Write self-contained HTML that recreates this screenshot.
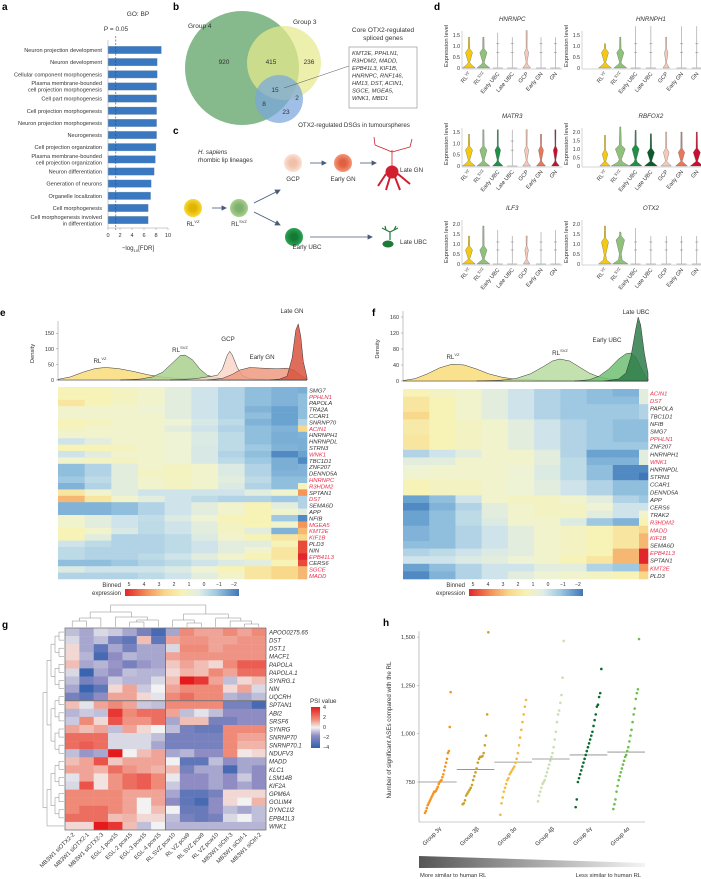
<!DOCTYPE html>
<html><head><meta charset="utf-8">
<style>
html,body{margin:0;padding:0;background:#fff}
svg{display:block;font-family:"Liberation Sans",sans-serif}
text{fill:#333}
</style></head>
<body>
<svg id="fig" width="701" height="879" viewBox="0 0 701 879" xmlns="http://www.w3.org/2000/svg">
<defs>
<linearGradient id="binGrad" x1="0" x2="1" y1="0" y2="0">
<stop offset="0" stop-color="#e3262b"/><stop offset="0.2" stop-color="#f4955a"/><stop offset="0.35" stop-color="#f8d88a"/><stop offset="0.5" stop-color="#f7f2b5"/><stop offset="0.65" stop-color="#dfeee6"/><stop offset="0.8" stop-color="#9fc9e2"/><stop offset="1" stop-color="#3f77b8"/>
</linearGradient>
<linearGradient id="psiGrad" x1="0" x2="0" y1="0" y2="1">
<stop offset="0" stop-color="#e41a1c"/><stop offset="0.3" stop-color="#ef8a78"/><stop offset="0.5" stop-color="#f2f2f2"/><stop offset="0.7" stop-color="#8e8cc2"/><stop offset="1" stop-color="#2f5fae"/>
</linearGradient>
<linearGradient id="simGrad" x1="0" x2="1"><stop offset="0" stop-color="#555"/><stop offset="1" stop-color="#f4f4f4"/></linearGradient>
<radialGradient id="grY"><stop offset="0.35" stop-color="#e0b400"/><stop offset="1" stop-color="#f7d93a"/></radialGradient>
<radialGradient id="grG"><stop offset="0.35" stop-color="#7fb070"/><stop offset="1" stop-color="#a8d08f"/></radialGradient>
<radialGradient id="grP"><stop offset="0.35" stop-color="#f0c0a8"/><stop offset="1" stop-color="#fbe0d4"/></radialGradient>
<radialGradient id="grO"><stop offset="0.35" stop-color="#e0603f"/><stop offset="1" stop-color="#f3977a"/></radialGradient>
<radialGradient id="grD"><stop offset="0.35" stop-color="#137a35"/><stop offset="1" stop-color="#2ea456"/></radialGradient>
</defs>

<!-- Panel labels -->
<text x="2" y="10" font-size="10" font-weight="bold" style="fill:#000">a</text>
<text x="173" y="10" font-size="10" font-weight="bold" style="fill:#000">b</text>
<text x="173" y="134" font-size="10" font-weight="bold" style="fill:#000">c</text>
<text x="434" y="10" font-size="10" font-weight="bold" style="fill:#000">d</text>
<text x="0" y="316" font-size="10" font-weight="bold" style="fill:#000">e</text>
<text x="372" y="316" font-size="10" font-weight="bold" style="fill:#000">f</text>
<text x="2" y="628" font-size="10" font-weight="bold" style="fill:#000">g</text>
<text x="383" y="626" font-size="10" font-weight="bold" style="fill:#000">h</text>

<!-- Panel b: Venn -->
<g>
<circle cx="242" cy="68" r="57" fill="#86b98b"/>
<circle cx="284" cy="63" r="37" fill="#e6ea8c" opacity="0.72"/>
<circle cx="279" cy="99" r="24" fill="#7aa6dd" opacity="0.72"/>
<text x="188" y="28" font-size="6.5">Group 4</text>
<text x="293" y="24" font-size="6.5">Group 3</text>
<text x="224" y="64" font-size="6.5" text-anchor="middle">920</text>
<text x="271" y="64" font-size="6.5" text-anchor="middle">415</text>
<text x="309" y="64" font-size="6.5" text-anchor="middle">236</text>
<text x="275" y="92" font-size="6.5" text-anchor="middle">15</text>
<text x="297" y="100" font-size="6.5" text-anchor="middle">2</text>
<text x="264" y="106" font-size="6.5" text-anchor="middle">8</text>
<text x="286" y="114" font-size="6.5" text-anchor="middle">23</text>
<line x1="284" y1="88" x2="349" y2="66" stroke="#555" stroke-width="0.5"/>
<text x="383" y="32" font-size="6.5" text-anchor="middle">Core OTX2-regulated</text>
<text x="383" y="40" font-size="6.5" text-anchor="middle">spliced genes</text>
<rect x="349" y="47" width="68" height="61" fill="#fff" stroke="#888" stroke-width="0.6"/>
<g font-size="5.8" font-style="italic">
<text x="352" y="55">KMT2E, PPHLN1,</text><text x="352" y="62.5">R3HDM2, MADD,</text><text x="352" y="70">EPB41L3, KIF1B,</text><text x="352" y="77.5">HNRNPC, RNF146,</text><text x="352" y="85">HM13, DST, ACIN1,</text><text x="352" y="92.5">SGCE, MGEA5,</text><text x="352" y="100">WNK1, MBD1</text>
</g>
<text x="354" y="127" font-size="6.2" text-anchor="middle">OTX2-regulated DSGs in tumourspheres</text>
</g>

<!-- Panel c: lineage -->
<g>
<text x="198" y="154" font-size="6.2" font-style="italic">H. sapiens</text>
<text x="198" y="162" font-size="6.2">rhombic lip lineages</text>
<circle cx="293" cy="163" r="9" fill="url(#grP)"/>
<circle cx="343" cy="163" r="9" fill="url(#grO)"/>
<circle cx="193" cy="208" r="9" fill="url(#grY)"/>
<circle cx="239" cy="208" r="9" fill="url(#grG)"/>
<circle cx="294" cy="237" r="9" fill="url(#grD)"/>
<g stroke="#4a5a7a" stroke-width="0.8" fill="#4a5a7a">
<line x1="310" y1="163" x2="324" y2="163"/><polygon points="326,163 322,161 322,165"/>
<line x1="360" y1="163" x2="374" y2="163"/><polygon points="376,163 372,161 372,165"/>
<line x1="212" y1="208" x2="224" y2="208"/><polygon points="226,208 222,206 222,210"/>
<line x1="254" y1="203" x2="278" y2="191"/><polygon points="280,190 275,190 277,194"/>
<line x1="254" y1="212" x2="278" y2="224"/><polygon points="280,225 275,225 277,221"/>
<line x1="310" y1="237" x2="370" y2="237"/><polygon points="372,237 368,235 368,239"/>
</g>
<g stroke="#d0202f" fill="#d0202f">
<path d="M392 178 L392 150 M392 152 L375 145 M392 152 L410 147 M375 145 L374 137 M410 147 L412 139" stroke-width="0.8" fill="none"/>
<ellipse cx="392" cy="172" rx="6" ry="6"/>
<path d="M386 174 L378 186 M398 174 L410 184 M390 177 L386 190 M395 177 L400 190" stroke-width="2" fill="none"/>
</g>
<text x="400" y="172" font-size="6.2">Late GN</text>
<g stroke="#1f7a3a" fill="#1f7a3a">
<path d="M390 240 L390 232 M390 232 L382 228 M390 232 L398 228 M386 230 L385 226 M394 230 L396 226" stroke-width="1.2" fill="none"/>
<ellipse cx="388" cy="244" rx="5" ry="3"/>
</g>
<text x="400" y="244" font-size="6.2">Late UBC</text>
<text x="293" y="181" font-size="6.2" text-anchor="middle">GCP</text>
<text x="343" y="181" font-size="6.2" text-anchor="middle">Early GN</text>
<text x="193" y="226" font-size="6.2" text-anchor="middle">RL<tspan font-size="4" dy="-3">VZ</tspan></text>
<text x="239" y="226" font-size="6.2" text-anchor="middle">RL<tspan font-size="4" dy="-3">SVZ</tspan></text>
<text x="307" y="249" font-size="6.2" text-anchor="middle">Early UBC</text>
</g>

<g id="panelA"></g>
<g id="panelD"></g>
<g id="panelE"></g>
<g id="panelF"></g>
<g id="panelG"></g>
<g id="panelH"></g>
</svg>

<script>
// ---------- Panel a data ----------
const goTerms = [["Neuron projection development"],["Neuron development"],["Cellular component morphogenesis"],["Plasma membrane-bounded","cell projection morphogenesis"],["Cell part morphogenesis"],["Cell projection morphogenesis"],["Neuron projection morphogenesis"],["Neurogenesis"],["Cell projection organization"],["Plasma membrane-bounded","cell projection organization"],["Neuron differentiation"],["Generation of neurons"],["Organelle localization"],["Cell morphogenesis"],["Cell morphogenesis involved","in differentiation"]];
const goValues = [8.9,8.2,8.2,8.1,8.1,8.1,8.1,8.1,8.0,7.9,7.7,7.2,7.1,6.7,6.7];
const goTicks = [0,2,4,6,8,10];
const goThreshold = 1.3;

// ---------- Panel d data ----------
const cellTypes = ["RL VZ","RL SVZ","Early UBC","Late UBC","GCP","Early GN","GN"];
const geneNames = ["HNRNPC","HNRNPH1","MATR3","RBFOX2","ILF3","OTX2"];
const vioMax = [[1.4,1.4,1.6,1.4,1.7,1.4,1.4],[1.1,1.4,1.9,1.9,1.4,1.9,1.9],[1.4,1.6,1.6,1.6,1.6,1.4,1.6],[1.8,2.3,2.1,1.9,2.0,2.0,2.0],[1.4,1.9,1.7,1.4,1.4,1.6,1.7],[1.9,1.6,1.8,1.4,1.4,1.4,1.4]];
const vioBulge = [[0.7,0.7,0,0,0.7,0,0],[0.7,0.7,0,0,0.7,0,0],[0.7,0.7,0.7,0,0.7,0.7,0.7],[0.7,1.0,1.0,0.8,0.8,0.8,0.8],[0.7,0.7,0,0,0.7,0,0],[1.1,1.2,0,0,0,0,0]];
const vioWidth = [[1,1,0,0,0.6,0,0],[1,1,0,0,0.5,0,0],[1,1,0.8,0,0.6,0.7,0.6],[0.8,1.4,1,1,0.8,0.9,1],[1,1,0,0,0.5,0,0],[1,1.2,0,0,0,0,0]];
const vioTicks = [[0,0.5,1.0,1.5],[0,0.5,1.0,1.5],[0,0.5,1.0,1.5],[0,0.5,1.0,1.5,2.0],[0,0.5,1.0,1.5,2.0],[0,0.5,1.0,1.5,2.0]];
const vioYMax = [1.5,1.5,1.5,2.0,2.0,2.0];

// ---------- Panel e data ----------
const eGenes = ["SMG7","PPHLN1","PAPOLA","TRA2A","CCAR1","SNRNP70","ACIN1","HNRNPH1","HNRNPDL","STRN3","WNK1","TBC1D1","ZNF207","DENND5A","HNRNPC","R3HDM2","SPTAN1","DST","SEMA6D","APP","NFIB","MGEA5","KMT2E","KIF1B","PLD3","NIN","EPB41L3","CERS6","SGCE","MADD"];
const eRed = ["PPHLN1","ACIN1","WNK1","HNRNPC","R3HDM2","DST","MGEA5","KMT2E","KIF1B","EPB41L3","SGCE","MADD"];
const eValues = [
[1.5,1.5,1.2,1,0.5,0,-0.5,-1,-1.2,-1.3],[1.5,1.5,1.3,1,0.5,0,-0.5,-1,-1.2,-1],[2,1.5,1.2,1,0.5,0,-0.5,-1,-1.2,-1],[1,1,1,0.8,0.5,0,-0.5,-1.2,-1.5,-1],[1,1,1,1,0.5,0,-0.5,-1,-1.5,-1],[1.5,1.3,1,1,0.8,0.2,-0.3,-1.2,-1.5,-0.5],[1.2,1,1,1,0.5,0,-0.5,-1,-1.2,2.5],[1,1,1,1,0.8,0.3,-0.3,-1,-1.3,-1.2],[0,0.5,1,1,0.8,0.3,-0.3,-1,-1.3,-1.3],[1.5,1.5,1.3,1,0.8,0.2,-0.3,-0.8,-1.2,-1.3],
[0,0.5,1,1,0.8,0.2,-0.5,-1,-1.8,-1.5],[1,1.2,1.2,1,0.8,0.2,-0.3,-0.8,-1.3,-1.8],[-1,-0.5,0.5,1,1.2,1,0.3,-0.5,-1.3,-1.2],[-1,-0.5,0.5,1.2,1.3,1,0.3,-0.5,-1.2,-1.2],[-0.8,-0.3,0.5,1,1.2,1,0.5,-0.3,-1,-1],[-1.2,-0.5,0.5,1,1.2,1,0.3,-0.5,-1,1.5],[2,1,0.5,0,0,0,0,0.5,1,3.5],[3,2,1,0.5,0,-0.3,-0.5,-0.5,-0.8,-0.5],[-1.2,-1.2,-1,-0.5,0,0.5,1,1.5,0.5,-0.5],[-1.2,-1.2,-1,-0.5,0,0.5,1,1.5,1,0.5],
[1,0.5,0,-0.2,0.3,0.8,1.5,1.5,-0.8,-1.8],[1,0.5,0,-0.3,0,0.5,1.2,1.5,1,3.5],[1.5,1,0.2,-0.3,0,0.5,1.2,0.5,-1.2,3],[1.5,0.5,-0.5,-0.5,-0.3,0.3,1,1.5,2,2.5],[0,-0.3,-0.5,-0.5,-0.3,0,0.5,0.5,1.5,4.5],[-0.3,-0.5,-0.5,-0.5,-0.3,0,0.5,1,2,4.5],[-0.3,-0.5,-0.5,-0.3,0,0.5,1,1.5,2,5],[-1,-1,-0.8,-0.5,-0.3,0,0.3,0.5,1.5,4.5],[0.3,0,0,0,0.3,0.8,1.5,2,2.5,3],[-0.5,-0.5,-0.5,-0.3,0,0.5,1,2,2.5,3]];
const eDensRLVZ = [[0,2],[5,10],[10,25],[15,37],[19,40],[24,37],[30,28],[36,17],[42,9],[50,4],[60,2],[75,1],[100,0]];
const eDensRLSVZ = [[25,0],[33,3],[38,10],[42,25],[46,55],[49,78],[51,80],[54,65],[57,35],[60,15],[65,5],[75,1],[100,0]];
const eDensGCP = [[45,0],[55,4],[60,10],[64,15],[66,35],[68,80],[69,92],[70,80],[72,40],[74,15],[77,4],[85,1],[100,0]];
const eDensEGN = [[60,0],[66,5],[70,18],[73,32],[77,40],[82,38],[88,36],[92,38],[95,30],[98,12],[100,3]];
const eDensLGN = [[85,0],[89,3],[92,12],[94,70],[95.5,160],[96.5,180],[97.5,140],[98.5,60],[100,8]];
const eDensTicks = [0,50,100,150];

// ---------- Panel f data ----------
const fGenes = ["ACIN1","DST","PAPOLA","TBC1D1","NFIB","SMG7","PPHLN1","ZNF207","HNRNPH1","WNK1","HNRNPDL","STRN3","CCAR1","DENND5A","APP","CERS6","TRAK2","R3HDM2","MADD","KIF1B","SEMA6D","EPB41L3","SPTAN1","KMT2E","PLD3"];
const fRed = ["ACIN1","DST","PPHLN1","WNK1","R3HDM2","MADD","KIF1B","EPB41L3","KMT2E"];
const fValues = [
[1.5,1.2,1,0.5,0,-0.5,-0.8,-1,-1.2,0.5],[2,1.5,1,0.5,0,-0.5,-0.8,-1,-1,0.5],[2,1.5,1,0.5,0,-0.5,-0.8,-0.8,-0.8,-0.5],[2.5,1.5,1,0.5,0,-0.5,-0.8,-0.8,-0.8,-0.5],[1.8,1.5,1.2,1,0.5,0,-0.5,-0.8,-1,-1],[1.8,1.5,1.2,1,0.5,0,-0.5,-0.8,-1,-1],[2,1.5,1.2,1,0.5,0,-0.5,-0.8,-1,-1],[2,1.5,1.2,1,0.5,0,-0.5,-0.8,-0.8,-0.8],[-0.5,0,0.5,1,1,0.5,-0.5,-1.5,-1.5,0.5],[0.5,0.5,1,1,1,0.5,-0.3,-1.2,-1.2,0.5],
[0.8,1,1,1,0.8,0.3,-0.3,-1,-1.8,-1.8],[1,1,1,1,0.8,0.3,-0.3,-1,-1.8,-2],[1.5,1.2,1.2,1,0.8,0.5,0,-0.5,-1,-1],[1.5,1.2,1.2,1,0.8,0.5,0,-0.5,-1,-1],[-1.5,-1,0,1,1.2,1.2,1,0.5,-0.5,-0.8],[-1.8,-1.2,-0.5,0.5,1,1.2,1.2,0.8,0,0],[-1.5,-1,-0.3,0.5,1,1.2,1.2,0.5,0,1],[-1.5,-1,-0.3,0.3,1,1,0.3,-0.8,-1.2,1.5],[-1.2,-1,-0.5,0,0.5,1,1.2,1.5,2,2.5],[-1.2,-1,-0.5,0,0.5,1,1.2,1.5,2,3],
[-1,-1,-0.5,0,0.5,1,1.2,1.5,2,3],[-0.5,-0.3,0,0.3,0.5,1,1.2,1.5,3,5],[0,0,0.3,0.5,0.8,1,1.5,2,3,5],[-1.5,-1,-0.5,0,0,0.5,0.5,-0.5,-0.8,3.5],[-1.8,-1.2,-0.5,0,0.5,0.8,1,1.2,1.5,2.5]];
const fDensRLVZ = [[0,1],[5,6],[10,18],[15,33],[20,42],[25,40],[30,30],[35,18],[40,10],[45,5],[55,2],[70,1],[100,0]];
const fDensRLSVZ = [[30,0],[40,2],[46,6],[52,18],[57,35],[61,50],[64,55],[68,50],[72,35],[76,20],[80,10],[85,4],[95,1],[100,0]];
const fDensEUBC = [[70,0],[76,3],[80,12],[84,30],[88,55],[91,68],[93,70],[95,60],[97,35],[99,12],[100,5]];
const fDensLUBC = [[82,0],[88,5],[91,20],[93,60],[95,130],[96,160],[97,140],[98.5,70],[100,20]];
const fDensTicks = [0,40,80,120,160];
const binTicks = ["5","4","3","2","1","0","−1","−2"];

// ---------- Panel g data ----------
const gRows = ["APOO0275.65","DST","DST.1","MACF1","PAPOLA","PAPOLA.1","SYNRG.1","NIN","UQCRH","SPTAN1","ABI2","SRSF6","SYNRG","SNRNP70","SNRNP70.1","NDUFV3","MADD","KLC1","LSM14B","KIF2A","GPM6A","GOLIM4","DYNC1I2","EPB41L3","WNK1"];
const gCols = ["MB3W1 siOTX2-2","MB3W1 siOTX2-1","MB3W1 siOTX2-3","EGL-1 pcw15","EGL-2 pcw15","EGL-3 pcw15","EGL-4 pcw15","RL SVZ pcw10","RL VZ pcw9","RL SVZ pcw9","RL VZ pcw10","MB3W1 siCtrl-3","MB3W1 siCtrl-1","MB3W1 siCtrl-2"];
const gValues = [
[-1,-1.5,-0.5,-0.8,-1.5,-2.5,-3.5,-1.5,2,1.5,1.5,2,1.5,2],
[-0.5,-1.5,-1,-2.5,-3,1,-3,1.5,1.8,1.8,1.5,1.5,1.8,1.8],
[0.5,-1.5,-3,-1.5,-2.5,-1.5,-1.5,-0.5,2,2,1.5,1.8,1.8,1.8],
[0.5,-1.2,-3.5,-2,-1.2,-1.5,-1.5,1.5,1.8,1.8,1.8,1.8,1.8,1.8],
[1,-1.5,-1.2,-1.8,-2.5,-1.8,-1.5,0.8,1.5,1,0.5,2,2.8,2.8],
[-0.5,-3.8,-1.5,-2,-1,-1.2,-1.2,0.5,1.2,1,2,1.5,2.5,2.5],
[-1,-2.5,-2,-0.8,-1.2,-1.2,-0.5,1,4,3.5,1.5,-1,0.5,1],
[-1.5,-3.8,-3,0.5,1.5,-0.8,0,1.5,2,2,2,0.5,1.5,-0.5],
[-2.5,-3,-2,1.5,1.5,0.5,-0.3,2,2.5,2,2,-1.2,-1.5,-1],
[1,-0.3,1.5,2,1.5,-0.8,-1,2,2,2,2,-2.5,-2.5,-3.5],
[-1.2,-0.8,-1,3.5,2,2.5,2.5,1.5,-1,-0.3,-1,-2,-2,-2],
[-0.8,2,0.5,3,1.8,1.8,2.5,-1.5,1,1,-2.5,-2.5,-2,-2],
[1.5,1,1.5,-1,1.5,0.5,0,-1,-2.5,-2.8,-2.8,2,2,2],
[2.5,2.5,2.5,-0.5,-0.5,-0.5,-1,-2.5,-2.5,-2.5,-2.5,2,1.5,1.5],
[2.5,2.8,2.5,-0.5,-0.5,-0.5,-1.5,-2.5,-2.5,-2.5,-2.5,2,1.2,1.2],
[-1,-1.8,-1.5,4,0,1,1.5,-1.5,-1.2,-2,-2,2,0.2,0.5],
[1,1.5,3,0.8,1.5,1.5,1.5,0,-3,-3,-1,-2,-1.5,-1.5],
[1.5,1.5,1.2,2.5,1.8,1.5,1.2,1,-2.5,-1.5,-1.5,-3.5,-1.5,-2],
[-0.3,1.5,0.3,1.8,2.5,2.8,2,-0.2,-2,-2,-1.5,-2,-0.8,-2],
[-0.5,3,0.3,1.8,2.5,2.8,2,-0.8,-2,-2,-1.5,-2,-1.5,-2],
[2,2,2,2,1.5,1.5,1.5,-1.5,-3,-3,-2.5,0.5,0.5,0.5],
[2,2,2,2,1.5,0,1.5,-2,-3,-3.5,-2,0.5,0,1.2],
[2,2.5,2.5,2,1.5,0,1,0,-2.8,-2.8,-2,-1,-1.5,-1],
[2.5,2.5,2.5,1,1.2,0.5,0.5,-1,-2.5,-2.8,-2.5,-0.5,0,-1],
[0.5,0.5,4,3.5,1,-1,0,-1.2,-1.2,-1.2,-1.2,-1.2,-1.2,-1.2]];
const psiTicks = ["4","2","0","−2","−4"];

// ---------- Panel h data ----------
const hGroups = ["Group 3γ","Group 3β","Group 3α","Group 4β","Group 4γ","Group 4α"];
const hG3g = [590,600,615,630,640,650,660,670,680,690,700,700,705,715,725,740,750,755,760,775,790,810,830,850,870,900,910,1035,1215];
const hG3b = [635,640,655,680,690,700,710,720,735,760,780,800,820,850,870,880,880,885,900,940,990,1100,1525];
const hG3a = [580,640,670,700,720,740,760,770,790,800,810,820,830,850,870,900,940,980,1020,1060,1100,1140,1175];
const hG4b = [650,680,700,720,740,750,760,780,800,820,840,860,880,900,930,970,1010,1060,1100,1120,1160,1200,1290,1480];
const hG4g = [620,660,750,770,790,810,830,850,870,890,910,930,950,970,990,1010,1040,1070,1100,1140,1150,1190,1210,1335];
const hG4a = [610,635,660,700,730,760,780,800,820,840,860,880,890,910,930,960,990,1020,1060,1100,1130,1180,1210,1230,1490];
const hMedians = [750,815,853,869,890,905];
const hTicks = [750,1000,1250,1500];
const hTickLabels = ["750","1,000","1,250","1,500"];

// ================= helpers =================
const NS="http://www.w3.org/2000/svg";
function mk(parent,tag,attrs,txt){const e=document.createElementNS(NS,tag);for(const k in attrs)e.setAttribute(k,attrs[k]);if(txt!==undefined)e.textContent=txt;parent.appendChild(e);return e;}
function hex(c){return [parseInt(c.slice(1,3),16),parseInt(c.slice(3,5),16),parseInt(c.slice(5,7),16)];}
function interp(stops,v){if(v>=stops[0][0])return stops[0][1];for(let i=0;i<stops.length-1;i++){const a=stops[i],b=stops[i+1];if(v<=a[0]&&v>=b[0]){const t=(a[0]-v)/(a[0]-b[0]);const ca=hex(a[1]),cb=hex(b[1]);return "rgb("+ca.map((x,j)=>Math.round(x+(cb[j]-x)*t)).join(",")+")";}}return stops[stops.length-1][1];}
const binStops=[[5,"#e3262b"],[3.5,"#f4955a"],[2.5,"#f8d88a"],[1.5,"#f7f2b5"],[0.8,"#eef3d6"],[0,"#cfe4ea"],[-0.8,"#9fc9e2"],[-1.5,"#6ba3d0"],[-2,"#3f77b8"]];
const psiStops=[[4,"#e41a1c"],[2,"#ef8a78"],[0,"#f2f2f2"],[-2,"#8e8cc2"],[-4,"#2f5fae"]];

// ================= Panel a =================
(function(){
const g=document.getElementById('panelA');
const x0=108,ppu=6,y0=50,dy=12.15,bh=7.5;
const sx=v=>x0+v*ppu;
mk(g,'text',{x:138,y:16,'font-size':6.5,'text-anchor':'middle',},'GO: BP');
mk(g,'text',{x:116,y:31,'font-size':6.5,'text-anchor':'middle',},'P = 0.05');
goValues.forEach((v,i)=>{
 const cy=y0+i*dy;
 const r=mk(g,'rect',{x:sx(0),y:cy-bh/2,width:sx(v)-sx(0),height:bh,fill:'#3a78c2',stroke:'#9aa',"stroke-width":0.3});
 
 
 const lines=goTerms[i];
 lines.forEach((ln,j)=>{
  const t=mk(g,'text',{x:102,y:cy+2+(j-(lines.length-1)/2)*6.5,'font-size':5.6,'text-anchor':'end'},ln);
  
  
 });
});
mk(g,'line',{x1:sx(goThreshold),x2:sx(goThreshold),y1:36,y2:230,stroke:'#444','stroke-width':0.6,'stroke-dasharray':'2,1.5',});
mk(g,'line',{x1:sx(0),x2:sx(0),y1:40,y2:228,stroke:'#999','stroke-width':0.5});
mk(g,'line',{x1:sx(0),x2:sx(10),y1:228,y2:228,stroke:'#999','stroke-width':0.5,});
goTicks.forEach(t=>{
 mk(g,'line',{x1:sx(t),x2:sx(t),y1:228,y2:230,stroke:'#999','stroke-width':0.5});
 const l=mk(g,'text',{x:sx(t),y:237,'font-size':5.6,'text-anchor':'middle'},String(t));
 
 
});
const ax=mk(g,'text',{x:138,y:250,'font-size':6.2,'text-anchor':'middle',},'−log');
mk(ax,'tspan',{'font-size':4,dy:2},'10');mk(ax,'tspan',{dy:-2},'[FDR]');
})();

// ================= Panel d =================
(function(){
const g=document.getElementById('panelD');
const colors=["#f2c913","#8fc17a","#1f8f4a","#0b5b2b","#f5c8b8","#e8775c","#c8102e"];
const layout=[{ax:462,c0:469,sp:14.4},{ax:582,c0:605,sp:15.3}];
const baselines=[68,166,264],tops=[35,132,224];
geneNames.forEach((gene,gi)=>{
 const col=gi%2,row=Math.floor(gi/2);const L=layout[col];
 const base=baselines[row];const ppu=(base-tops[row])/vioYMax[gi];
 const sy=v=>base-v*ppu;
 const pg=mk(g,'g',{});
 
 
 mk(pg,'text',{x:L.c0+3*L.sp,y:tops[row]-14,'font-size':6.2,'font-style':'italic','text-anchor':'middle'},gene);
 mk(pg,'line',{x1:L.ax,x2:L.ax,y1:sy(vioYMax[gi])-4,y2:base+1,stroke:'#aaa','stroke-width':0.5});
 mk(pg,'line',{x1:L.ax,x2:L.c0+6*L.sp+7,y1:base+1,y2:base+1,stroke:'#aaa','stroke-width':0.5});
 vioTicks[gi].forEach(t=>{mk(pg,'text',{x:L.ax-2,y:sy(t)+2,'font-size':5.2,'text-anchor':'end'},t===0?'0':t.toFixed(1));});
 mk(pg,'text',{transform:`translate(${L.ax-14},${base-22}) rotate(-90)`,'font-size':5.8,'text-anchor':'middle'},'Expression level');
 cellTypes.forEach((ct,ci)=>{
  const cx=L.c0+ci*L.sp,w=vioWidth[gi][ci]*6.5,b=vioBulge[gi][ci],m=vioMax[gi][ci];
  mk(pg,'line',{x1:cx,x2:cx,y1:sy(m),y2:base,stroke:'#777','stroke-width':0.45});
  if(w>0){
   const by=sy(b);
   const d=`M${cx-w} ${base} L${cx-w*0.25} ${base-4} L${cx-w*0.12} ${(base+by)/2+2} L${cx-w*0.55} ${by} L${cx-w*0.12} ${by-4} L${cx-0.6} ${sy(m)} L${cx+0.6} ${sy(m)} L${cx+w*0.12} ${by-4} L${cx+w*0.55} ${by} L${cx+w*0.12} ${(base+by)/2+2} L${cx+w*0.25} ${base-4} L${cx+w} ${base} Z`;
   const v=mk(pg,'path',{d:d,fill:colors[ci],stroke:'#555','stroke-width':0.3});
   
   
  } else {
   mk(pg,'line',{x1:cx-5,x2:cx+5,y1:base,y2:base,stroke:'#bbb','stroke-width':1});
   mk(pg,'line',{x1:cx-1.5,x2:cx+1.5,y1:sy(0.7),y2:sy(0.7),stroke:'#666','stroke-width':0.4});
   mk(pg,'line',{x1:cx-1.5,x2:cx+1.5,y1:sy(1.1),y2:sy(1.1),stroke:'#666','stroke-width':0.4});
  }
  const isRL=ct.startsWith('RL');
  const t=mk(pg,'text',{transform:`translate(${cx+2},${base+6}) rotate(-50)`,'font-size':5.6,'text-anchor':'end'},isRL?'RL':ct);
  if(isRL){mk(t,'tspan',{'font-size':3.8,dy:-2},ct.split(' ')[1]);}
 });
});
})();

// ================= heatmap + density helper =================
function lineagePanel(gid,prefix,opt){
 const g=document.getElementById(gid);
 const {hx,hw,hy,hh,genes,reds,values,dens,densColors,densLabels,dTicks,dMax,dBase,dTop}=opt;
 const sx=v=>hx+v/100*hw;
 const sy=v=>dBase-(v/dMax)*(dBase-dTop);
 mk(g,'line',{x1:hx,x2:hx,y1:dTop-6,y2:dBase,stroke:'#888','stroke-width':0.5});
 mk(g,'line',{x1:hx,x2:hx+hw,y1:dBase,y2:dBase,stroke:'#888','stroke-width':0.5});
 dTicks.forEach(t=>{mk(g,'text',{x:hx-4,y:sy(t)+2,'font-size':5.4,'text-anchor':'end'},String(t));mk(g,'line',{x1:hx-2,x2:hx,y1:sy(t),y2:sy(t),stroke:'#888','stroke-width':0.5});});
 mk(g,'text',{transform:`translate(${hx-24},${(dTop+dBase)/2}) rotate(-90)`,'font-size':5.8,'text-anchor':'middle'},'Density');
 dens.forEach((pts,i)=>{
  let d=`M${sx(pts[0][0])} ${dBase}`;pts.forEach(p=>{d+=` L${sx(p[0])} ${sy(p[1])}`;});d+=` L${sx(pts[pts.length-1][0])} ${dBase} Z`;
  const p=mk(g,'path',{d:d,fill:densColors[i],'fill-opacity':0.85,stroke:'#333','stroke-width':0.5,'stroke-linejoin':'round'});
  
  
 });
 densLabels.forEach(l=>{const t=mk(g,'text',{x:l[1],y:l[2],'font-size':6.2,'text-anchor':'middle'},l[0]);if(l[3]){mk(t,'tspan',{'font-size':4,dy:-3},l[3]);}});
 const rh=hh/genes.length;const nc=values[0].length;const lastW=9;const cw=(hw-lastW)/(nc-1);
 values.forEach((row,r)=>{
  row.forEach((v,c)=>{
   const x=hx+c*cw, w=(c===nc-1)?lastW:cw;
   const cell=mk(g,'rect',{x:x,y:hy+r*rh,width:w+0.3,height:rh+0.3,fill:interp(binStops,v)});
   
   
  });
  const gl=mk(g,'text',{x:hx+hw+2,y:hy+r*rh+rh*0.85,'font-size':5.9,'font-style':'italic',style:'fill:'+(reds.includes(genes[r])?'#e8304a':'#333')},genes[r]);
  
  
 });
 const ly=opt.legY,lx=opt.legX;
 mk(g,'text',{x:lx-4,y:ly+1,'font-size':6,'text-anchor':'end'},'Binned');
 mk(g,'text',{x:lx-4,y:ly+9,'font-size':6,'text-anchor':'end'},'expression');
 mk(g,'rect',{x:lx,y:ly+3,width:114,height:7,fill:'url(#binGrad)',});
 binTicks.forEach((t,i)=>{mk(g,'text',{x:lx+4+i*15,y:ly,'font-size':5,'text-anchor':'middle'},t);});
}
lineagePanel('panelE','e',{hx:58,hw:249,hy:387,hh:192,genes:eGenes,reds:eRed,values:eValues,
 dens:[eDensRLVZ,eDensRLSVZ,eDensGCP,eDensEGN,eDensLGN],densColors:['#f9dc7a','#a9d18e','#f9d6c8','#ef9a80','#d9533e'],
 densLabels:[['RL',100,363,'VZ'],['RL',180,352,'SVZ'],['GCP',228,341],['Early GN',262,359],['Late GN',292,313]],
 dTicks:eDensTicks,dMax:170,dBase:380,dTop:327,legX:125,legY:586});
lineagePanel('panelF','f',{hx:403,hw:245,hy:389,hh:190,genes:fGenes,reds:fRed,values:fValues,
 dens:[fDensRLVZ,fDensRLSVZ,fDensEUBC,fDensLUBC],densColors:['#f9dc7a','#b9dca0','#6fbf73','#2e7d4a'],
 densLabels:[['RL',453,359,'VZ'],['RL',560,355,'SVZ'],['Early UBC',607,342],['Late UBC',636,314]],
 dTicks:fDensTicks,dMax:160,dBase:381,dTop:317,legX:469,legY:586});

// ================= Panel g =================
(function(){
const g=document.getElementById('panelG');
const hx=65,hw=201,hy=628,hh=202;
const nR=gValues.length,nC=gCols.length;const cw=hw/nC,rh=hh/nR;
gValues.forEach((row,r)=>{row.forEach((v,c)=>{
 const cell=mk(g,'rect',{x:hx+c*cw,y:hy+r*rh,width:cw+0.2,height:rh+0.2,fill:interp(psiStops,v)});
 
 
});
 const t=mk(g,'text',{x:hx+hw+3,y:hy+r*rh+rh*0.8,'font-size':6,'font-style':'italic'},gRows[r]);
 
 
});
mk(g,'rect',{x:hx,y:hy,width:cw*7,height:rh*9,fill:'none',stroke:'#777','stroke-width':0.8});
mk(g,'rect',{x:hx+cw*7,y:hy,width:cw*7,height:rh*9,fill:'none',stroke:'#777','stroke-width':0.8});
mk(g,'rect',{x:hx,y:hy+rh*9,width:cw*7,height:rh*(nR-9),fill:'none',stroke:'#777','stroke-width':0.8});
mk(g,'rect',{x:hx+cw*7,y:hy+rh*9,width:cw*7,height:rh*(nR-9),fill:'none',stroke:'#777','stroke-width':0.8});
gCols.forEach((c,i)=>{
 const t=mk(g,'text',{transform:`translate(${hx+(i+0.7)*cw},${hy+hh+5}) rotate(-45)`,'font-size':5.8,'text-anchor':'end'},c);
 
 
});
const cxs=i=>hx+(i+0.5)*cw;const dg=mk(g,'g',{stroke:'#888','stroke-width':0.5,fill:'none',});
function join(a,b,ya,yb,yt){mk(dg,'path',{d:`M${a} ${ya} V${yt} H${b} V${yb}`});return [(a+b)/2,yt];}
let A=join(cxs(0),cxs(1),627,627,621),B=join(A[0],cxs(2),621,627,618),C=join(cxs(4),cxs(5),627,627,622),D=join(C[0],cxs(6),622,627,620),E=join(cxs(3),D[0],627,620,617),F=join(B[0],E[0],618,617,612);
let G1=join(cxs(8),cxs(9),627,627,623),G2=join(cxs(7),G1[0],627,623,620),H1=join(cxs(12),cxs(13),627,627,624),H2=join(cxs(11),H1[0],627,624,621),H3=join(cxs(10),H2[0],627,621,618),I=join(G2[0],H3[0],620,618,614);
join(F[0],I[0],612,614,605);
const rys=i=>hy+(i+0.5)*rh;const lg=mk(g,'g',{stroke:'#888','stroke-width':0.5,fill:'none',});
function ljoin(a,b,xa,xb,xt){mk(lg,'path',{d:`M${xa} ${a} H${xt} V${b} H${xb}`});return [(a+b)/2,xt];}
let nodes=[];for(let i=0;i<nR;i+=2){if(i+1<nR)nodes.push(ljoin(rys(i),rys(i+1),64,64,59));else nodes.push([rys(i),64]);}
let lvl=55;while(nodes.length>1){const nn=[];for(let i=0;i<nodes.length;i+=2){if(i+1<nodes.length)nn.push(ljoin(nodes[i][0],nodes[i+1][0],nodes[i][1],nodes[i+1][1],lvl));else nn.push(nodes[i]);}nodes=nn;lvl-=4;}
mk(g,'text',{x:310,y:703,'font-size':6.2},'PSI value');
mk(g,'rect',{x:311,y:707,width:9,height:41,fill:'url(#psiGrad)',});
psiTicks.forEach((t,i)=>{mk(g,'text',{x:323,y:709+i*10,'font-size':5.4},t);});
})();

// ================= Panel h =================
(function(){
const g=document.getElementById('panelH');
const ax=419,x1=645,yb=822;const ppu=48.3/250;
const sy=v=>782-(v-750)*ppu;
const groupVals=[hG3g,hG3b,hG3a,hG4b,hG4g,hG4a];
const colors=["#f7941d","#c9a227","#f4b942","#c8e0b0","#0b6b2e","#6cc04a"];
const gw=(x1-ax)/hGroups.length;
mk(g,'line',{x1:ax,x2:ax,y1:sy(1530),y2:yb,stroke:'#999','stroke-width':0.6,});
mk(g,'line',{x1:ax,x2:x1,y1:yb,y2:yb,stroke:'#999','stroke-width':0.6,});
hTicks.forEach((t,i)=>{
 mk(g,'line',{x1:ax-2,x2:ax,y1:sy(t),y2:sy(t),stroke:'#999','stroke-width':0.5});
 const l=mk(g,'text',{x:ax-4,y:sy(t)+2,'font-size':5.6,'text-anchor':'end'},hTickLabels[i]);
 
 
});
mk(g,'text',{transform:`translate(391,730) rotate(-90)`,'font-size':6.2,'text-anchor':'middle',},'Number of significant ASEs compared with the RL');
groupVals.forEach((vals,gi)=>{
 const gx=ax+gi*gw;const n=vals.length;
 mk(g,'line',{x1:gx,x2:gx+gw,y1:sy(hMedians[gi]),y2:sy(hMedians[gi]),stroke:'#888','stroke-width':0.8,});
 vals.forEach((v,k)=>{
  const c=mk(g,'circle',{cx:gx+6+k*(gw-12)/(n-1),cy:sy(v),r:1.3,fill:colors[gi]});
  
  
 });
 const t=mk(g,'text',{transform:`translate(${gx+gw*0.6},${yb+7}) rotate(-45)`,'font-size':5.8,'text-anchor':'end'},hGroups[gi]);
 
 
});
mk(g,'polygon',{points:`${ax},856 ${x1},863 ${x1},867 ${ax},868`,fill:'url(#simGrad)',});
mk(g,'text',{x:ax+1,y:877,'font-size':5.8},'More similar to human RL');
mk(g,'text',{x:x1-4,y:877,'font-size':5.8,'text-anchor':'end'},'Less similar to human RL');
})();
</script>
</body></html>
